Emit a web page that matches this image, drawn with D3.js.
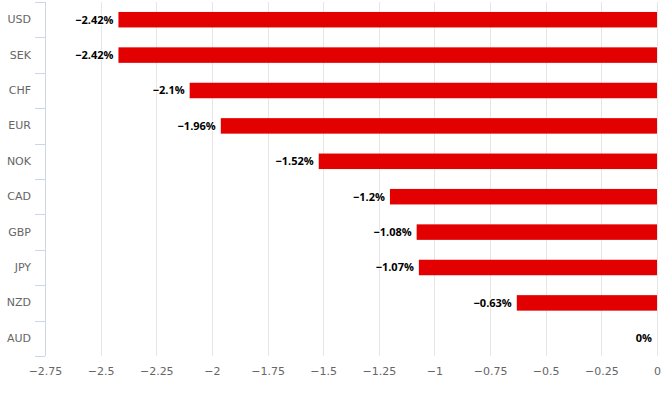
<!DOCTYPE html>
<html>
<head>
<meta charset="utf-8">
<script src="https://cdn.jsdelivr.net/npm/d3@7"></script>
<style>
  body { margin: 0; background: #fff; }
  svg { display: block; font-family: "DejaVu Sans", "Lucida Grande", sans-serif; }
</style>
</head>
<body>
<div id="chart"></div>
<script>
// currency performance, percent
const currencies = ['USD', 'SEK', 'CHF', 'EUR', 'NOK', 'CAD', 'GBP', 'JPY', 'NZD', 'AUD'];
const changes = [-2.42, -2.42, -2.1, -1.96, -1.52, -1.2, -1.08, -1.07, -0.63, 0];
const xTicks = [-2.75, -2.5, -2.25, -2, -1.75, -1.5, -1.25, -1, -0.75, -0.5, -0.25, 0];

const width = 669, height = 395;
const margin = { top: 2, right: 12, bottom: 39, left: 45 };
const innerW = width - margin.left - margin.right;
const innerH = height - margin.top - margin.bottom;

const fmtMinus = s => String(s).replace('-', '\u2212');

const svg = d3.select('#chart').append('svg')
  .attr('width', width)
  .attr('height', height);

const g = svg.append('g')
  .attr('transform', `translate(${margin.left},${margin.top})`);

const x = d3.scaleLinear()
  .domain([-2.75, 0])
  .range([0, innerW]);

const y = d3.scaleBand()
  .domain(currencies)
  .range([0, innerH]);

// vertical grid
g.append('g').selectAll('line')
  .data(xTicks)
  .join('line')
  .attr('x1', d => Math.round(x(d)) + 0.5)
  .attr('x2', d => Math.round(x(d)) + 0.5)
  .attr('y1', 0)
  .attr('y2', innerH)
  .attr('stroke', '#e6e6e6')
  .attr('stroke-width', 1);

// x axis labels
const xAxis = g.append('g')
  .attr('transform', `translate(0,${innerH})`)
  .call(d3.axisBottom(x).tickValues(xTicks).tickSize(0).tickPadding(11)
    .tickFormat(d => fmtMinus(d)));
xAxis.select('.domain').remove();
xAxis.selectAll('text')
  .attr('fill', '#666')
  .style('font-size', '11px')
  .style('font-family', '"DejaVu Sans", sans-serif');

// category axis
const yAxis = g.append('g')
  .call(d3.axisLeft(y).tickSize(0).tickPadding(14));
yAxis.select('.domain')
  .attr('stroke', '#ccd6eb')
  .attr('d', `M0.5,0V${innerH}`);
yAxis.selectAll('text')
  .attr('fill', '#666')
  .style('font-size', '11px')
  .style('font-family', '"DejaVu Sans", sans-serif');

// category tick marks between bands
const bounds = currencies.map(c => y(c)).concat([innerH]);
g.append('g').selectAll('line')
  .data(bounds)
  .join('line')
  .attr('x1', -10)
  .attr('x2', 0)
  .attr('y1', d => Math.round(d) + 0.5)
  .attr('y2', d => Math.round(d) + 0.5)
  .attr('stroke', '#ccd6eb');

// bars
const barH = 15.5;
g.append('g').selectAll('rect')
  .data(changes)
  .join('rect')
  .attr('x', d => x(d))
  .attr('y', (d, i) => y(currencies[i]) + (y.bandwidth() - barH) / 2)
  .attr('width', d => x(0) - x(d))
  .attr('height', barH)
  .attr('fill', '#e30000');

// data labels
g.append('g').selectAll('text')
  .data(changes)
  .join('text')
  .attr('x', d => x(d) - 5)
  .attr('y', (d, i) => y(currencies[i]) + y.bandwidth() / 2)
  .attr('dy', '0.35em')
  .attr('text-anchor', 'end')
  .attr('fill', '#000')
  .attr('stroke', '#fff')
  .attr('stroke-width', 2)
  .attr('paint-order', 'stroke')
  .style('font-family', '"Open Sans", sans-serif')
  .style('font-size', '11px')
  .style('font-weight', 'bold')
  .text(d => fmtMinus(d) + '%');
</script>
</body>
</html>
